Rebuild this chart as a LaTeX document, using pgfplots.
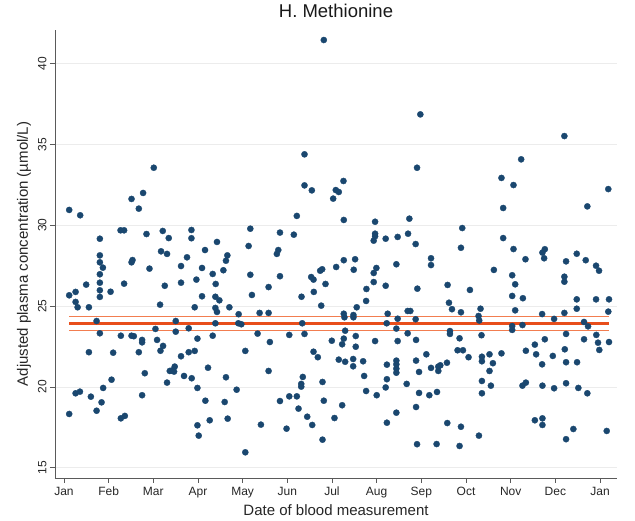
\documentclass[border=0pt]{standalone}
\usepackage{fontspec}
\setmainfont{Liberation Sans}
\usepackage{pgfplots}
\usepackage{pgfplotstable}
\pgfplotsset{compat=1.18}
\usetikzlibrary{calc}
\definecolor{dotblue}{RGB}{26,71,111}
\definecolor{fitred}{RGB}{232,78,27}
\definecolor{cired}{RGB}{242,125,80}
\definecolor{gridgray}{RGB}{236,236,236}
\definecolor{axgray}{RGB}{90,90,90}

\pgfplotstableread{
x y
2.011 33.56
1.772 32.00
1.513 31.63
1.676 31.03
0.118 30.95
0.364 30.62
1.267 29.69
1.347 29.69
1.848 29.46
2.212 29.65
2.346 29.21
0.804 29.17
0.804 28.14
0.804 27.71
0.872 27.38
0.804 26.97
0.804 26.45
0.804 25.98
1.044 25.89
0.804 25.57
1.535 27.85
1.513 27.71
1.915 27.32
2.174 28.39
2.308 28.23
2.257 26.26
1.347 26.39
0.498 26.33
0.261 25.88
0.118 25.67
0.261 25.26
0.306 24.93
0.559 24.93
2.152 25.09
0.731 24.08
0.804 23.32
1.274 23.17
1.513 23.17
1.564 23.14
1.750 22.91
1.750 22.76
2.049 23.59
2.085 22.91
2.219 22.54
2.161 22.24
0.559 22.15
1.102 22.12
1.676 22.15
1.810 20.85
2.369 20.99
2.308 20.27
1.066 20.45
0.878 19.94
0.261 19.61
0.358 19.71
0.603 19.40
1.750 19.49
0.842 19.05
0.118 18.33
0.731 18.53
1.274 18.06
1.363 18.21
2.854 29.71
2.854 29.20
3.426 28.97
3.158 28.47
2.755 28.02
2.621 27.48
3.658 28.14
3.627 27.81
3.091 27.36
3.569 27.22
3.330 26.99
2.965 26.64
2.621 26.45
3.397 26.37
4.172 29.79
4.134 28.72
4.172 26.94
4.208 25.69
4.581 26.18
4.766 28.23
4.798 28.47
4.836 29.55
4.836 26.85
3.091 25.61
3.390 25.58
3.479 25.36
2.927 24.93
3.390 24.89
3.426 24.64
3.703 24.93
3.911 24.50
4.380 24.58
4.581 24.58
2.503 24.08
2.503 23.42
2.793 23.63
3.390 23.94
3.904 23.94
3.971 23.88
4.335 23.30
4.610 22.78
2.988 22.99
3.330 23.17
2.621 21.90
2.793 22.15
2.927 22.23
4.060 22.23
2.407 21.01
2.465 20.95
2.480 21.26
2.688 20.68
2.860 20.54
3.225 21.19
3.627 20.60
2.988 19.94
3.866 19.83
4.581 20.99
3.166 19.15
3.598 19.07
4.836 19.13
3.263 17.94
3.665 18.04
2.988 17.63
3.017 16.99
4.409 17.67
4.060 15.96
5.817 41.46
5.385 34.39
5.385 32.47
5.549 32.16
6.257 32.74
6.085 32.18
6.152 32.06
6.027 31.65
5.213 30.58
6.264 30.33
6.965 30.22
5.146 29.42
6.965 29.48
6.965 29.32
6.934 29.05
7.202 29.17
6.264 27.84
6.518 27.90
6.487 27.25
6.094 27.42
5.781 27.28
5.736 27.19
5.535 26.80
5.587 26.64
5.855 26.37
6.994 27.36
6.934 27.05
6.934 26.49
6.771 26.06
7.202 26.26
5.593 25.88
5.318 25.58
5.759 25.03
6.764 25.32
6.554 24.93
6.264 24.53
6.480 24.45
6.279 24.31
6.480 24.31
7.247 24.53
5.334 23.94
7.225 23.94
6.295 23.48
5.044 23.22
5.385 23.28
6.264 22.99
6.228 22.64
5.996 22.86
6.532 23.15
6.532 22.49
6.965 22.84
5.587 22.18
5.683 21.84
6.152 21.69
6.295 21.56
6.474 21.73
6.474 21.28
6.697 21.59
7.229 21.38
5.347 20.62
5.312 20.19
5.312 20.02
5.788 20.31
6.720 20.68
6.764 19.75
7.229 20.48
7.202 19.97
5.044 19.42
5.213 19.42
5.817 19.15
5.251 18.66
5.446 18.16
5.558 17.65
4.983 17.42
6.056 18.08
6.228 18.87
7.001 19.49
7.229 17.79
5.788 16.74
7.978 36.86
7.904 33.56
7.732 30.41
8.916 29.83
7.470 29.28
7.703 29.48
7.873 28.84
8.887 28.61
8.217 27.96
8.217 27.54
7.441 27.59
9.624 27.24
7.911 26.08
8.588 26.31
9.088 26.00
8.619 25.21
8.686 24.81
7.694 24.70
7.754 24.70
8.887 24.62
9.325 24.84
9.281 24.39
7.470 24.22
7.873 24.19
7.441 23.61
7.694 23.32
7.470 22.84
7.882 22.91
8.641 23.46
8.641 23.28
8.856 23.01
9.296 24.11
9.347 23.20
8.112 22.02
8.811 22.27
8.932 22.27
9.057 21.84
9.356 21.87
9.356 21.59
9.526 22.02
9.602 21.47
7.441 21.63
7.441 21.40
7.441 21.13
7.441 20.88
7.882 21.63
7.949 20.93
8.217 21.18
8.380 21.26
8.380 20.99
8.425 21.34
8.574 21.50
9.526 20.99
7.672 20.19
7.949 19.63
8.179 19.49
8.351 19.69
9.356 20.37
9.557 20.08
9.356 19.61
7.882 18.76
7.441 18.41
8.581 17.77
8.887 17.54
9.289 16.99
7.904 16.46
8.342 16.47
8.856 16.35
11.202 35.52
10.235 34.08
9.794 32.93
10.063 32.49
9.832 31.07
11.716 31.17
12.185 32.24
9.832 29.21
10.063 28.53
10.331 27.90
10.764 28.52
10.711 28.31
10.749 27.96
11.479 28.24
11.240 27.77
11.680 27.84
11.911 27.50
11.978 27.19
11.202 26.82
11.202 26.51
10.034 26.91
10.101 26.35
10.034 25.63
10.273 25.49
11.479 25.42
11.911 25.42
12.201 25.42
10.101 24.74
11.479 24.84
10.704 24.51
11.202 24.58
12.185 24.66
10.972 24.21
10.034 23.77
10.034 23.53
10.264 23.83
11.642 24.02
11.732 23.75
11.240 23.28
11.917 23.22
11.642 22.95
11.955 22.74
12.201 22.78
10.764 22.95
10.541 22.62
11.984 22.29
11.211 22.33
9.794 22.08
10.340 22.24
10.570 22.02
10.943 21.92
10.704 21.40
11.240 21.53
11.486 21.53
10.264 20.08
10.340 20.27
10.711 20.08
10.972 19.92
11.240 20.23
11.515 19.94
11.716 19.61
10.541 17.94
10.711 18.06
10.711 17.65
11.403 17.40
11.240 16.77
12.150 17.28
}\methdata

\begin{document}
\begin{tikzpicture}
\begin{axis}[
  name=ax,
  scale only axis,
  width=562pt, height=448pt,
  xmin=-0.2, xmax=12.38, ymin=14.37, ymax=42.08,
  axis lines*=left,
  axis line style={axgray, line width=0.8pt},
  xtick={0,...,12},
  xticklabels={Jan,Feb,Mar,Apr,May,Jun,Jul,Aug,Sep,Oct,Nov,Dec,Jan},
  ytick={15,20,...,40},
  ymajorgrids,
  grid style={gridgray, line width=0.8pt},
  tick align=outside,
  major tick length=5pt,
  tick style={axgray, line width=0.8pt},
  /pgf/number format/assume math mode=true,
  ticklabel style={font=\fontsize{12}{14}\selectfont, text=black!85},
  xticklabel style={text height=9pt, text depth=2.5pt},
  yticklabel style={rotate=90, anchor=south},
  title={H. Methionine},
  title style={font=\fontsize{18.5}{21}\selectfont, at={(0.5,1)}, anchor=south, yshift=3pt, text=black!90},
  xlabel={Date of blood measurement},
  ylabel={Adjusted plasma concentration (µmol/L)},
  label style={font=\fontsize{15}{18}\selectfont, text=black!85},
  clip=false,
]
\addplot[cired, line width=1.3pt] coordinates {(0.118,24.38) (12.20,24.38)};
\addplot[cired, line width=1.3pt] coordinates {(0.118,23.48) (12.20,23.48)};
\addplot[fitred, line width=3.8pt] coordinates {(0.118,23.92) (12.20,23.92)};
\addplot[only marks, mark=*, mark size=3.1pt, mark options={fill=dotblue, draw=dotblue, line width=0.3pt, solid}] table[x=x, y=y] {\methdata};
\end{axis}
\pgfresetboundingbox
\path ($(ax.south west)+(-55pt,-43pt)$) rectangle ($(ax.north east)+(18pt,30pt)$);
\end{tikzpicture}
\end{document}
